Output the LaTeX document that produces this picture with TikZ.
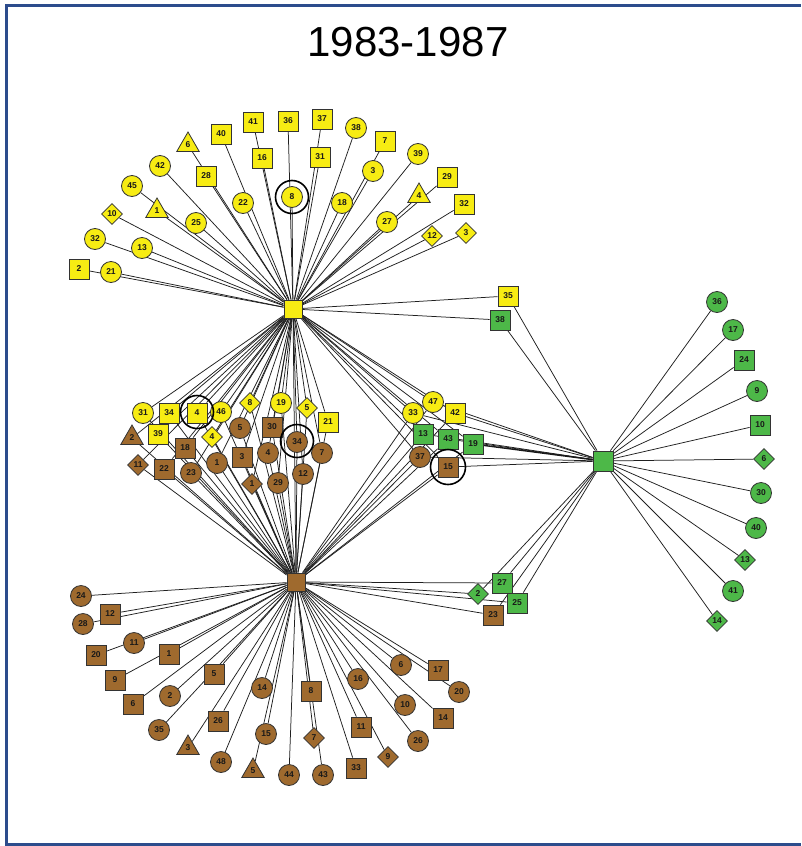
\documentclass[tikz,border=0pt]{standalone}
\usepackage{fontspec}
\setmainfont{Liberation Sans}
\usetikzlibrary{shapes.geometric}
\pgfdeclarelayer{bg}
\pgfsetlayers{bg,main}
\definecolor{ylw}{HTML}{F7EC13}
\definecolor{brn}{HTML}{9F6A2E}
\definecolor{grn}{HTML}{4DB848}
\definecolor{framec}{HTML}{2C4C8C}
\newcommand\lblfont{\fontsize{8.5}{9}\selectfont\bfseries}
\tikzset{
  base/.style={draw=black!80, line width=0.8pt, inner sep=0pt, font=\lblfont, text=black!90},
  cn/.style={base, circle, minimum size=21pt},
  sn/.style={base, rectangle, minimum size=20pt},
  dn/.style={base, diamond, minimum width=21pt, minimum height=21pt},
  tn/.style={base, regular polygon, regular polygon sides=3, minimum size=26pt},
  Y/.style={fill=ylw}, B/.style={fill=brn}, G/.style={fill=grn},
  hub/.style={base, rectangle, minimum size=18pt},
  ring/.style={circle, draw=black, line width=1.6pt, minimum size=33pt, inner sep=0pt},
  edge/.style={draw=black!88, line width=0.75pt},
  thick edge/.style={draw=black!90, line width=1.4pt}
}
\begin{document}
\begin{tikzpicture}[x=1pt, y=-1pt]
\useasboundingbox (0,0) rectangle (801,846);
\begin{pgfonlayer}{bg}
  \fill[white] (0,0) rectangle (801,846);
\end{pgfonlayer}
% frame
\draw[framec, line width=3pt] (6.5,846) -- (6.5,5.5) -- (801,5.5);
\draw[framec, line width=2.5pt] (5,844.5) -- (801,844.5);
\node[font=\fontsize{42}{46}\selectfont] (title) at (408,42) {1983-1987};

% hubs
\node[hub, Y] (Yh) at (293,309) {};
\node[hub, B] (Bh) at (296,582) {};
\node[hub, G, minimum size=20pt] (Gh) at (603,461) {};

% upper yellow fan
\node[sn,Y] (ts2)  at (79,269) {2};
\node[cn,Y] (tc21) at (111,272) {21};
\node[cn,Y] (tc32) at (95,239) {32};
\node[cn,Y] (tc13) at (142,248) {13};
\node[dn,Y] (td10) at (112,214) {10};
\node[cn,Y] (tc45) at (132,186) {45};
\node[tn,Y] (tt1)  at (157,211) {1};
\node[cn,Y] (tc25) at (196,223) {25};
\node[cn,Y] (tc42) at (160,166) {42};
\node[tn,Y] (tt6)  at (188,145) {6};
\node[sn,Y] (ts28) at (206,176) {28};
\node[sn,Y] (ts40) at (221,134) {40};
\node[cn,Y] (tc22) at (243,203) {22};
\node[sn,Y] (ts41) at (253,122) {41};
\node[sn,Y] (ts16) at (262,158) {16};
\node[sn,Y] (ts36) at (288,121) {36};
\node[cn,Y] (tc8)  at (292,197) {8};
\node[sn,Y] (ts37) at (322,119) {37};
\node[sn,Y] (ts31) at (320,157) {31};
\node[cn,Y] (tc38) at (356,128) {38};
\node[cn,Y] (tc18) at (342,203) {18};
\node[sn,Y] (ts7)  at (385,141) {7};
\node[cn,Y] (tc3)  at (373,171) {3};
\node[cn,Y] (tc39) at (418,154) {39};
\node[tn,Y] (tt4)  at (419,196) {4};
\node[sn,Y] (ts29) at (447,177) {29};
\node[cn,Y] (tc27) at (387,222) {27};
\node[sn,Y] (ts32) at (464,204) {32};
\node[dn,Y] (td12) at (432,236) {12};
\node[dn,Y] (td3)  at (466,233) {3};
\node[ring] (rg8) at (tc8) {};

% shared by yellow and green
\node[sn,Y] (xs35) at (508,296) {35};
\node[sn,G] (xs38) at (500,320) {38};

% middle cluster, left
\node[cn,Y] (mc31) at (143,413) {31};
\node[sn,Y] (ms34) at (169,413) {34};
\node[sn,Y] (ms4)  at (197,413) {4};
\node[cn,Y] (mc46) at (221,412) {46};
\node[dn,Y] (md4)  at (212,437) {4};
\node[dn,Y] (md8)  at (250,403) {8};
\node[cn,Y] (mc19) at (281,403) {19};
\node[dn,Y] (md5)  at (307,408) {5};
\node[sn,Y] (ms21) at (328,422) {21};
\node[sn,Y] (ms39) at (158,434) {39};
\node[tn,B] (mt2)  at (132,438) {2};
\node[dn,B] (md11) at (138,465) {11};
\node[sn,B] (ms22) at (164,469) {22};
\node[sn,B] (ms18) at (185,448) {18};
\node[cn,B] (mc23) at (191,473) {23};
\node[cn,B] (mc1)  at (217,463) {1};
\node[cn,B] (mc5)  at (240,428) {5};
\node[sn,B] (ms3)  at (242,457) {3};
\node[sn,B] (ms30) at (272,427) {30};
\node[cn,B] (mc4)  at (268,453) {4};
\node[dn,B] (md1)  at (252,484) {1};
\node[cn,B] (mc29) at (278,483) {29};
\node[cn,B] (mc34) at (297,442) {34};
\node[cn,B] (mc7)  at (322,453) {7};
\node[cn,B] (mc12) at (303,474) {12};
\node[ring] (rg4)  at (197,412) {};
\node[ring] (rg34) at (297,441) {};

% middle cluster, right
\node[cn,Y] (rc33) at (413,413) {33};
\node[cn,Y] (rc47) at (433,402) {47};
\node[sn,Y] (rs42) at (455,413) {42};
\node[sn,G] (rs13) at (423,434) {13};
\node[sn,G] (rs43) at (448,439) {43};
\node[sn,G] (rs19) at (473,444) {19};
\node[cn,B] (rc37) at (420,457) {37};
\node[sn,B] (rs15) at (448,467) {15};
\node[ring, minimum size=35pt] (rg15) at (rs15) {};

% shared by brown and green
\node[sn,G] (xs27) at (502,583) {27};
\node[dn,G] (xd2)  at (478,594) {2};
\node[sn,G] (xs25) at (517,603) {25};
\node[sn,B] (xs23) at (493,615) {23};

% lower brown fan
\node[cn,B] (bc24) at (81,596) {24};
\node[sn,B] (bs12) at (110,614) {12};
\node[cn,B] (bc28) at (83,624) {28};
\node[cn,B] (bc11) at (134,643) {11};
\node[sn,B] (bs20) at (96,655) {20};
\node[sn,B] (bs1)  at (169,654) {1};
\node[sn,B] (bs9)  at (115,680) {9};
\node[sn,B] (bs5)  at (214,674) {5};
\node[cn,B] (bc2)  at (170,696) {2};
\node[sn,B] (bs6)  at (133,704) {6};
\node[cn,B] (bc14) at (262,688) {14};
\node[sn,B] (bs26) at (218,721) {26};
\node[cn,B] (bc35) at (159,730) {35};
\node[cn,B] (bc15) at (266,734) {15};
\node[tn,B] (bt3)  at (188,748) {3};
\node[cn,B] (bc48) at (221,762) {48};
\node[tn,B] (bt5)  at (253,771) {5};
\node[cn,B] (bc44) at (289,775) {44};
\node[sn,B] (bs8)  at (311,691) {8};
\node[dn,B] (bd7)  at (314,738) {7};
\node[cn,B] (bc43) at (323,775) {43};
\node[sn,B] (bs33) at (356,768) {33};
\node[sn,B] (bs11) at (361,727) {11};
\node[dn,B] (bd9)  at (388,757) {9};
\node[cn,B] (bc16) at (358,679) {16};
\node[cn,B] (bc10) at (405,705) {10};
\node[cn,B] (bc26) at (418,741) {26};
\node[cn,B] (bc6)  at (401,665) {6};
\node[sn,B] (bs17) at (438,670) {17};
\node[cn,B] (bc20) at (459,692) {20};
\node[sn,B] (bs14) at (443,718) {14};

% right green fan
\node[cn,G] (gc36) at (717,302) {36};
\node[cn,G] (gc17) at (733,330) {17};
\node[sn,G] (gs24) at (744,360) {24};
\node[cn,G] (gc9)  at (757,391) {9};
\node[sn,G] (gs10) at (760,425) {10};
\node[dn,G] (gd6)  at (764,459) {6};
\node[cn,G] (gc30) at (761,493) {30};
\node[cn,G] (gc40) at (756,528) {40};
\node[dn,G] (gd13) at (745,560) {13};
\node[cn,G] (gc41) at (733,591) {41};
\node[dn,G] (gd14) at (717,621) {14};

\begin{pgfonlayer}{bg}
  % yellow hub ties
  \foreach \n in {ts2,tc21,tc32,tc13,td10,tc45,tt1,tc25,tc42,tt6,ts28,ts40,tc22,
                  ts41,ts16,ts36,tc8,ts37,ts31,tc38,tc18,ts7,tc3,tc39,tt4,ts29,
                  tc27,ts32,td12,td3,xs35,xs38}
    \draw[edge] (Yh) -- (\n);
  % ties of the middle cluster to both yellow and brown hubs
  \foreach \n in {mc31,ms34,ms4,mc46,md4,md8,mc19,md5,ms21,ms39,mt2,md11,ms22,
                  ms18,mc23,mc1,mc5,ms3,ms30,mc4,md1,mc29,mc34,mc7,mc12,
                  rc33,rc47,rs42,rs13,rs43,rs19,rc37,rs15}
  {
    \draw[edge] (Yh) -- (\n);
    \draw[edge] (Bh) -- (\n);
  }
  \draw[edge] (Yh) -- (Bh);
  % brown hub ties
  \foreach \n in {bc24,bs12,bc28,bc11,bs20,bs1,bs9,bs5,bc2,bs6,bc14,bs26,bc35,
                  bc15,bt3,bc48,bt5,bc44,bs8,bd7,bc43,bs33,bs11,bd9,bc16,bc10,
                  bc26,bc6,bs17,bc20,bs14,xs27,xd2,xs25,xs23}
    \draw[edge] (Bh) -- (\n);
  % green hub ties
  \foreach \n in {gc36,gc17,gs24,gc9,gs10,gd6,gc30,gc40,gd13,gc41,gd14,
                  xs35,xs38,rc33,rc47,rs42,rs13,rs43,rc37,rs15,
                  xs27,xd2,xs25,xs23}
    \draw[edge] (Gh) -- (\n);
  \draw[thick edge] (Gh) -- (rs19);
\end{pgfonlayer}
\end{tikzpicture}
\end{document}
